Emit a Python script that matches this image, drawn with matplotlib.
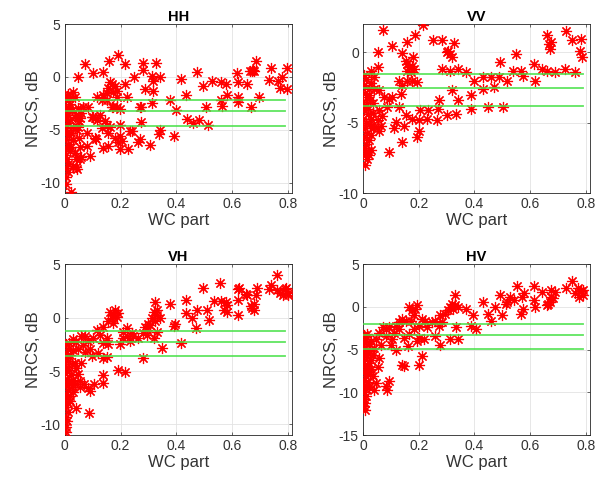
import numpy as np
import matplotlib
matplotlib.use("Agg")
import matplotlib.pyplot as plt

# ---------------- data ----------------
titles = ["HH", "VV", "VH", "HV"]

hh_pts = [
    (0.072, 1.2), (0.102, 0.4), (0.138, 0.45), (0.048, 0.0), (0.16, 1.5), (0.19, 2.1),
    (0.216, 1.2), (0.282, 1.35), (0.327, 1.3), (0.249, 0.0), (0.216, -0.7), (0.282, 0.7),
    (0.313, 0.1), (0.343, 0.0), (0.318, -0.35), (0.288, -1.1), (0.318, -1.3), (0.313, -2.5),
    (0.274, -2.8), (0.274, -4.3), (0.27, -5.9), (0.264, -6.2), (0.306, -6.4), (0.337, -5.4),
    (0.343, -5.0), (0.379, -2.15), (0.399, -3.1), (0.415, -0.2), (0.393, -5.6), (0.433, -1.75),
    (0.475, 0.5), (0.495, -0.9), (0.439, -4.0), (0.46, -4.4), (0.481, -4.05), (0.513, -4.5),
    (0.508, -2.8), (0.529, -0.35), (0.559, -0.5), (0.577, -0.7), (0.559, -2.15), (0.565, -2.7),
    (0.583, -1.75), (0.619, 0.4), (0.621, -0.5), (0.621, -1.9), (0.621, -2.35), (0.655, -0.7),
    (0.667, -2.85), (0.679, 0.55), (0.685, 1.5), (0.697, -1.9), (0.739, 0.85), (0.763, -0.35),
    (0.78, 0.0), (0.797, 0.85), (0.797, -1.15), (0.773, -1.0), (0.733, -0.3), (0.67, 0.6),
    (0.675, 0.7), (0.665, 0.55),
    (0.114, -1.9), (0.132, -2.2), (0.15, -1.55), (0.156, -1.05), (0.168, -0.7), (0.18, -0.85),
    (0.162, -0.5), (0.174, -1.45), (0.186, -1.3), (0.186, -1.9), (0.168, -2.85), (0.186, -2.85),
    (0.15, -2.2), (0.138, -1.75), (0.222, -1.9), (0.198, -3.0), (0.174, -2.8), (0.268, -2.8),
    (0.066, -2.85), (0.084, -2.85), (0.096, -3.75), (0.108, -3.9), (0.126, -3.6), (0.144, -4.2),
    (0.054, -3.9), (0.048, -4.7), (0.234, -5.15), (0.138, -6.7), (0.156, -6.55), (0.192, -6.2),
    (0.198, -6.85), (0.228, -6.85), (0.18, -5.75), (0.112, -5.9), (0.078, -5.3), (0.09, -7.45),
    (0.078, -6.5), (0.054, -7.8), (0.042, -8.5), (0.156, -5.3), (0.162, -4.7), (0.15, -4.55),
    (0.132, -4.85), (0.198, -4.55), (0.204, -6.1), (0.198, -5.6), (0.24, -5.15), (0.108, -5.75),
    (0.102, -3.8), (0.114, -4.05), (0.036, -3.8),
    (0.003, -2.2), (0.006, -2.8), (0.002, -3.3), (0.01, -3.6), (0.004, -4.0), (0.012, -4.4),
    (0.002, -4.8), (0.008, -5.2), (0.015, -5.5), (0.003, -5.9), (0.01, -6.3), (0.005, -6.7),
    (0.018, -7.0), (0.002, -7.4), (0.008, -7.8), (0.012, -8.2), (0.004, -8.6), (0.01, -9.0),
    (0.003, -9.5), (0.006, -10.1), (0.022, -10.9), (0.02, -2.6), (0.025, -3.1), (0.03, -1.4),
    (0.035, -1.9), (0.02, -4.1), (0.028, -4.7), (0.024, -5.3), (0.03, -6.0), (0.022, -6.6),
    (0.035, -7.2), (0.04, -7.8), (0.03, -8.4), (0.045, -8.7), (0.016, -3.0), (0.015, -2.0),
    (0.04, -3.6), (0.045, -5.0), (0.05, -5.8), (0.055, -6.6), (0.06, -7.6), (0.05, -4.2),
    (0.06, -3.4), (0.048, -2.9), (0.007, -1.8), (0.012, -1.6),
]

vv_pts = [
    (0.071, 1.55), (0.215, 1.95), (0.188, 1.2), (0.106, 0.45), (0.053, 0.0), (0.159, 0.7),
    (0.141, -0.05), (0.153, -0.6), (0.159, -0.85), (0.165, -1.05), (0.159, -1.3), (0.171, -1.4),
    (0.182, -1.2), (0.176, -0.95), (0.18, -0.3), (0.253, 0.85), (0.282, 0.85), (0.327, 0.65),
    (0.3, 0.0), (0.312, -0.1), (0.306, 0.1), (0.318, -0.3), (0.282, -1.2), (0.312, -1.3),
    (0.341, -1.2), (0.371, -1.4), (0.4, -2.0), (0.429, -1.75), (0.459, -1.75), (0.488, -1.75),
    (0.518, -2.0), (0.429, -2.6), (0.471, -2.45), (0.492, -0.7), (0.549, -0.1), (0.539, -1.3),
    (0.565, -1.35), (0.574, -1.65), (0.612, -0.8), (0.618, -2.0), (0.641, -1.2), (0.659, -1.3),
    (0.688, -1.4), (0.724, -1.2), (0.759, -1.4), (0.66, 1.2), (0.668, 0.6), (0.671, 0.25),
    (0.675, 0.7), (0.727, 1.5), (0.751, 0.85), (0.782, 0.95), (0.779, 0.1), (0.786, -0.35),
    (0.386, -3.0), (0.388, -4.0), (0.449, -3.85), (0.504, -3.85), (0.318, -2.7), (0.341, -3.4),
    (0.335, -4.35), (0.3, -4.45), (0.271, -3.4), (0.268, -4.0), (0.265, -4.8), (0.235, -4.1),
    (0.229, -4.7), (0.206, -4.1), (0.2, -4.8), (0.176, -4.7), (0.153, -4.45), (0.147, -5.2),
    (0.118, -4.95), (0.112, -5.4), (0.141, -6.4), (0.2, -5.55), (0.194, -6.0), (0.094, -7.05),
    (0.13, -2.0), (0.135, -2.95), (0.141, -2.35), (0.159, -2.0), (0.176, -2.0), (0.194, -2.1),
    (0.094, -3.3), (0.106, -3.2), (0.076, -3.2), (0.13, -3.9), (0.088, -3.9), (0.059, -4.1),
    (0.053, -1.05), (0.041, -1.75), (0.03, -1.3), (0.059, -2.7), (0.03, -2.2), (0.041, -2.6),
    (0.041, -5.3), (0.053, -4.8), (0.059, -5.6), (0.035, -4.3), (0.018, -4.0), (0.065, -5.2),
    (0.07, -4.5),
    (0.004, -1.6), (0.012, -1.9), (0.003, -2.3), (0.02, -2.6), (0.008, -2.9), (0.015, -3.2),
    (0.002, -3.5), (0.025, -3.4), (0.01, -3.8), (0.005, -4.1), (0.018, -4.4), (0.002, -4.7),
    (0.012, -5.0), (0.025, -5.1), (0.006, -5.4), (0.015, -5.7), (0.003, -6.0), (0.022, -6.2),
    (0.01, -6.5), (0.005, -6.8), (0.018, -7.0), (0.008, -7.3), (0.013, -7.6), (0.006, -8.0),
    (0.028, -5.9), (0.03, -4.7), (0.022, -3.0), (0.035, -3.6), (0.03, -6.9), (0.035, -5.4),
    (0.02, -7.3),
]

vh_pts = [
    (0.761, 4.0), (0.739, 3.05), (0.733, 2.65), (0.76, 2.6), (0.788, 2.7), (0.8, 2.3),
    (0.793, 2.8), (0.781, 2.1), (0.8, 2.1), (0.77, 2.3), (0.69, 2.75), (0.685, 2.1),
    (0.679, 1.3), (0.673, 0.9), (0.667, 1.05), (0.679, 0.75), (0.655, 2.1), (0.649, 2.25),
    (0.625, 2.8), (0.621, 2.7), (0.622, 1.65), (0.622, 0.2), (0.556, 3.2), (0.496, 2.75),
    (0.535, 1.6), (0.559, 1.6), (0.577, 1.5), (0.583, 1.2), (0.571, 0.7), (0.58, 0.55),
    (0.511, 0.7), (0.517, -0.2), (0.475, 0.7), (0.457, -0.05), (0.472, -0.95), (0.433, 1.65),
    (0.433, 0.4), (0.397, -0.55), (0.39, -0.75), (0.379, 1.25), (0.415, -2.4), (0.349, -2.85),
    (0.325, 1.5), (0.331, 0.7), (0.319, 0.55), (0.331, 0.25), (0.343, -0.05), (0.313, -0.05),
    (0.325, -0.35), (0.3, -0.55), (0.306, -0.7), (0.288, -0.85), (0.294, -1.15), (0.282, -1.45),
    (0.294, -1.6), (0.319, -1.9), (0.331, -1.3), (0.282, -3.8), (0.264, -1.9), (0.246, -1.75),
    (0.24, -1.45), (0.234, -2.2), (0.222, -1.75), (0.21, -1.9), (0.198, -2.5), (0.162, 0.55),
    (0.174, 0.25), (0.18, 0.7), (0.192, 0.4), (0.186, 0.1), (0.168, -0.05), (0.156, -0.35),
    (0.174, -0.5), (0.222, -1.0), (0.21, -1.3), (0.138, -0.85), (0.114, -1.15), (0.126, -1.6),
    (0.15, -1.9), (0.138, -2.35), (0.156, -2.5), (0.102, -1.9), (0.084, -2.2), (0.072, -1.75),
    (0.06, -1.75), (0.12, -3.3), (0.15, -3.65), (0.138, -3.8), (0.192, -4.9), (0.216, -5.05),
    (0.138, -5.35), (0.138, -6.1), (0.084, -6.6), (0.09, -6.9), (0.106, -6.25), (0.088, -8.9),
    (0.054, -5.9), (0.048, -5.3), (0.042, -4.7), (0.036, -4.2), (0.042, -8.45), (0.054, -6.5),
    (0.06, -4.2), (0.072, -3.2), (0.09, -2.9), (0.096, -3.6), (0.066, -2.6), (0.048, -2.9),
    (0.042, -2.3), (0.03, -2.0), (0.07, -6.2),
    (0.003, -2.5), (0.012, -2.9), (0.005, -3.3), (0.02, -3.5), (0.002, -3.8), (0.01, -4.1),
    (0.025, -4.3), (0.004, -4.6), (0.015, -4.9), (0.002, -5.2), (0.022, -5.4), (0.008, -5.7),
    (0.014, -6.0), (0.003, -6.3), (0.025, -6.5), (0.01, -6.8), (0.005, -7.1), (0.018, -7.3),
    (0.002, -7.6), (0.01, -8.0), (0.005, -8.4), (0.012, -8.8), (0.004, -9.3), (0.008, -9.7),
    (0.003, -10.2), (0.006, -10.7), (0.03, -5.8), (0.03, -7.0), (0.028, -3.0), (0.035, -6.2),
    (0.02, -7.8), (0.016, -2.4),
]

hv_pts = [
    (0.751, 3.0), (0.729, 2.2), (0.77, 2.25), (0.782, 1.85), (0.788, 1.4), (0.759, 1.6),
    (0.776, 1.2), (0.79, 2.0), (0.676, 2.0), (0.688, 1.8), (0.682, 1.0), (0.671, 0.6),
    (0.665, 0.4), (0.676, 1.2), (0.659, 0.2), (0.641, 1.8), (0.614, 2.4), (0.612, 0.8),
    (0.618, 0.0), (0.551, 2.4), (0.576, 1.6), (0.571, 1.2), (0.574, -0.2), (0.565, -0.8),
    (0.541, 0.8), (0.529, 1.2), (0.512, 0.4), (0.518, 0.6), (0.5, -1.0), (0.491, 1.4),
    (0.429, 0.6), (0.447, -0.8), (0.459, -1.7), (0.473, 0.0), (0.329, 1.4), (0.318, 0.4),
    (0.329, 0.2), (0.341, 0.0), (0.312, 0.0), (0.306, -0.4), (0.294, -0.8), (0.324, -0.2),
    (0.371, -0.2), (0.394, -1.0), (0.388, -2.2), (0.406, -2.6), (0.335, -2.4), (0.341, -3.75),
    (0.312, -3.75), (0.276, -1.0), (0.282, -1.8), (0.271, -2.2), (0.259, -1.6), (0.247, -1.8),
    (0.224, -1.6), (0.229, -2.4), (0.259, -3.4), (0.276, -4.4), (0.2, -2.2), (0.182, -2.6),
    (0.165, 0.0), (0.176, -0.4), (0.188, -0.2), (0.194, 0.2), (0.182, -1.0), (0.171, -1.6),
    (0.153, -1.6), (0.141, -1.4), (0.129, -1.8), (0.212, -1.4), (0.218, -3.75), (0.2, -3.6),
    (0.194, -4.0), (0.129, -2.6), (0.112, -3.0), (0.106, -3.8), (0.082, -2.6), (0.071, -2.4),
    (0.059, -3.0), (0.047, -3.8), (0.082, -3.4), (0.065, -4.4), (0.041, -4.8), (0.141, -6.75),
    (0.147, -6.95), (0.212, -5.75), (0.2, -6.75), (0.092, -8.7), (0.088, -9.7), (0.082, -9.3),
    (0.04, -9.7), (0.047, -8.9), (0.035, -8.1), (0.053, -7.0), (0.059, -6.0), (0.1, -4.4),
    (0.12, -5.0), (0.16, -4.6), (0.147, -3.6), (0.165, -3.2), (0.118, -2.2), (0.095, -2.3),
    (0.003, -3.3), (0.012, -3.7), (0.005, -4.1), (0.02, -4.3), (0.002, -4.6), (0.01, -5.0),
    (0.025, -5.2), (0.004, -5.5), (0.015, -5.9), (0.002, -6.3), (0.022, -6.5), (0.008, -6.8),
    (0.014, -7.2), (0.003, -7.6), (0.025, -7.8), (0.01, -8.1), (0.005, -8.5), (0.018, -8.8),
    (0.002, -9.2), (0.01, -9.6), (0.005, -10.0), (0.012, -10.4), (0.004, -10.8), (0.008, -11.2),
    (0.003, -11.6), (0.006, -12.0), (0.03, -6.2), (0.03, -7.2), (0.028, -4.0), (0.035, -5.6),
    (0.02, -9.4), (0.016, -3.2),
]

# green reference levels, dB
hh_lines = [-2.2, -3.2, -4.6]
vv_lines = [-1.55, -2.55, -3.8]
vh_lines = [-1.25, -2.3, -3.55]
hv_lines = [-2.05, -3.25, -4.95]
line_x = [0.0, 0.79]

y_limits = [(-11, 5), (-10, 2), (-11, 5), (-15, 5)]
y_ticks = [[-10, -5, 0, 5], [-10, -5, 0], [-10, -5, 0, 5], [-15, -10, -5, 0, 5]]
x_ticks = [0, 0.2, 0.4, 0.6, 0.8]
x_ticklabels = ["0", "0.2", "0.4", "0.6", "0.8"]

# ---------------- style ----------------
plt.rcParams.update({
    "font.family": ["Liberation Sans", "DejaVu Sans"],
    "font.size": 8,
    "axes.unicode_minus": False,
    "axes.edgecolor": "#262626",
    "axes.linewidth": 0.6,
    "xtick.color": "#333333",
    "ytick.color": "#333333",
    "xtick.direction": "in",
    "ytick.direction": "in",
    "xtick.major.size": 2.5,
    "ytick.major.size": 2.5,
    "xtick.major.width": 0.5,
    "ytick.major.width": 0.5,
})

ASTERISK = (8, 2, 0)
RED = "#ff0000"
GREEN = "#45e045"

fig = plt.figure(figsize=(6.11, 4.83), dpi=100)

positions = [
    [0.106, 0.600, 0.372, 0.350],
    [0.594, 0.600, 0.372, 0.350],
    [0.106, 0.099, 0.372, 0.354],
    [0.594, 0.099, 0.372, 0.354],
]

panels = [
    (hh_pts, hh_lines),
    (vv_pts, vv_lines),
    (vh_pts, vh_lines),
    (hv_pts, hv_lines),
]

for i, (pts, levels) in enumerate(panels):
    ax = fig.add_axes(positions[i])
    arr = np.array(pts)

    ax.plot(arr[:, 0], arr[:, 1], linestyle="none", marker=ASTERISK,
            markersize=8, markeredgewidth=0.85, color=RED, zorder=3)

    for lev in levels:
        ax.plot(line_x, [lev, lev], color=GREEN, linewidth=1.3, alpha=0.85, zorder=4)

    ax.set_xlim(0, 0.815)
    ax.set_ylim(*y_limits[i])
    ax.set_xticks(x_ticks)
    ax.set_xticklabels(x_ticklabels)
    ax.set_yticks(y_ticks[i])
    ax.tick_params(labelsize=10, pad=3, top=True, right=True)
    ax.grid(True, color="#e3e3e3", linewidth=0.6)
    ax.set_axisbelow(True)

    ax.set_title(titles[i], fontsize=10.5, fontweight="bold", pad=2)
    ax.set_xlabel("WC part", fontsize=12, color="#333333", labelpad=1)
    ax.set_ylabel("NRCS, dB", fontsize=12, color="#333333", labelpad=0)

fig.savefig("out.png", dpi=100)
